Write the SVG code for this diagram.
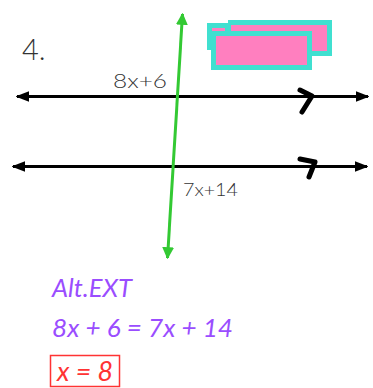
<svg xmlns="http://www.w3.org/2000/svg" width="373" height="388" viewBox="0 0 373 388">
<style>
.ln{stroke:#000;stroke-width:3;fill:none}
.gr{stroke:#33c933;stroke-width:3;fill:none}
.chev{stroke:#000;stroke-width:5;fill:none;stroke-linecap:round;stroke-linejoin:round}
.lbl{font-family:Lato,"Open Sans","DejaVu Sans",sans-serif;font-weight:300;fill:#333}
.pur{font-family:Lato,"Open Sans","DejaVu Sans",sans-serif;font-weight:400;fill:#9a4dff;font-style:italic}
.red{font-family:Lato,"Open Sans","DejaVu Sans",sans-serif;font-weight:400;fill:#ff3333;font-style:italic}
.teal{fill:#40e0d0}
.pink{fill:#ff7fbf}
</style>
<defs>
<marker id="ab" viewBox="0 0 10 10" refX="9" refY="5" markerWidth="4.5" markerHeight="4.5" orient="auto-start-reverse" markerUnits="strokeWidth">
<path d="M0,1 L10,5 L0,9 Z" fill="#000"/>
</marker>
<marker id="ag" viewBox="0 0 10 10" refX="9" refY="5" markerWidth="4" markerHeight="4" orient="auto-start-reverse" markerUnits="strokeWidth">
<path d="M0,0 L10,5 L0,10 Z" fill="#33c933"/>
</marker>
</defs>
<g id="label-4"><text x="22" y="60" class="lbl" font-size="29">4.</text></g>
<g id="boxes">
<rect class="teal" x="228" y="20" width="104" height="36"/>
<rect class="pink" x="231" y="25" width="96" height="26"/>
<rect class="teal" x="207" y="23" width="23" height="27"/>
<rect class="pink" x="212" y="28" width="13" height="3"/>
<rect class="teal" x="211" y="31" width="101" height="39"/>
<rect class="pink" x="216" y="36" width="91" height="29"/>
</g>
<g id="connectors">
<line class="ln" x1="17" y1="96.5" x2="368" y2="96.5" marker-start="url(#ab)" marker-end="url(#ab)"/>
<line class="ln" x1="13" y1="166.5" x2="367" y2="166.5" marker-start="url(#ab)" marker-end="url(#ab)"/>
<line class="gr" x1="182.5" y1="14" x2="167.5" y2="258" marker-start="url(#ag)" marker-end="url(#ag)"/>
<path class="chev" d="M300,90 L312,96 L302,112"/>
<path class="chev" d="M300,159 L315,162 L309,177"/>
</g>
<g id="angle-labels">
<text x="113" y="88" class="lbl" font-size="20" textLength="54" lengthAdjust="spacingAndGlyphs">8x+6</text>
<text x="183" y="196" class="lbl" font-size="17" textLength="55" lengthAdjust="spacingAndGlyphs">7x+14</text>
</g>
<g id="work">
<text x="52" y="297" class="pur" font-size="26" textLength="80" lengthAdjust="spacingAndGlyphs">Alt.EXT</text>
<text x="52" y="337" class="pur" font-size="26" textLength="181" lengthAdjust="spacingAndGlyphs">8x + 6 = 7x + 14</text>
<rect x="50.5" y="355.5" width="69" height="31" fill="none" stroke="#ff3333" stroke-width="1.5"/>
<text x="57" y="381" class="red" font-size="27" textLength="56" lengthAdjust="spacingAndGlyphs">x = 8</text>
</g>
</svg>
